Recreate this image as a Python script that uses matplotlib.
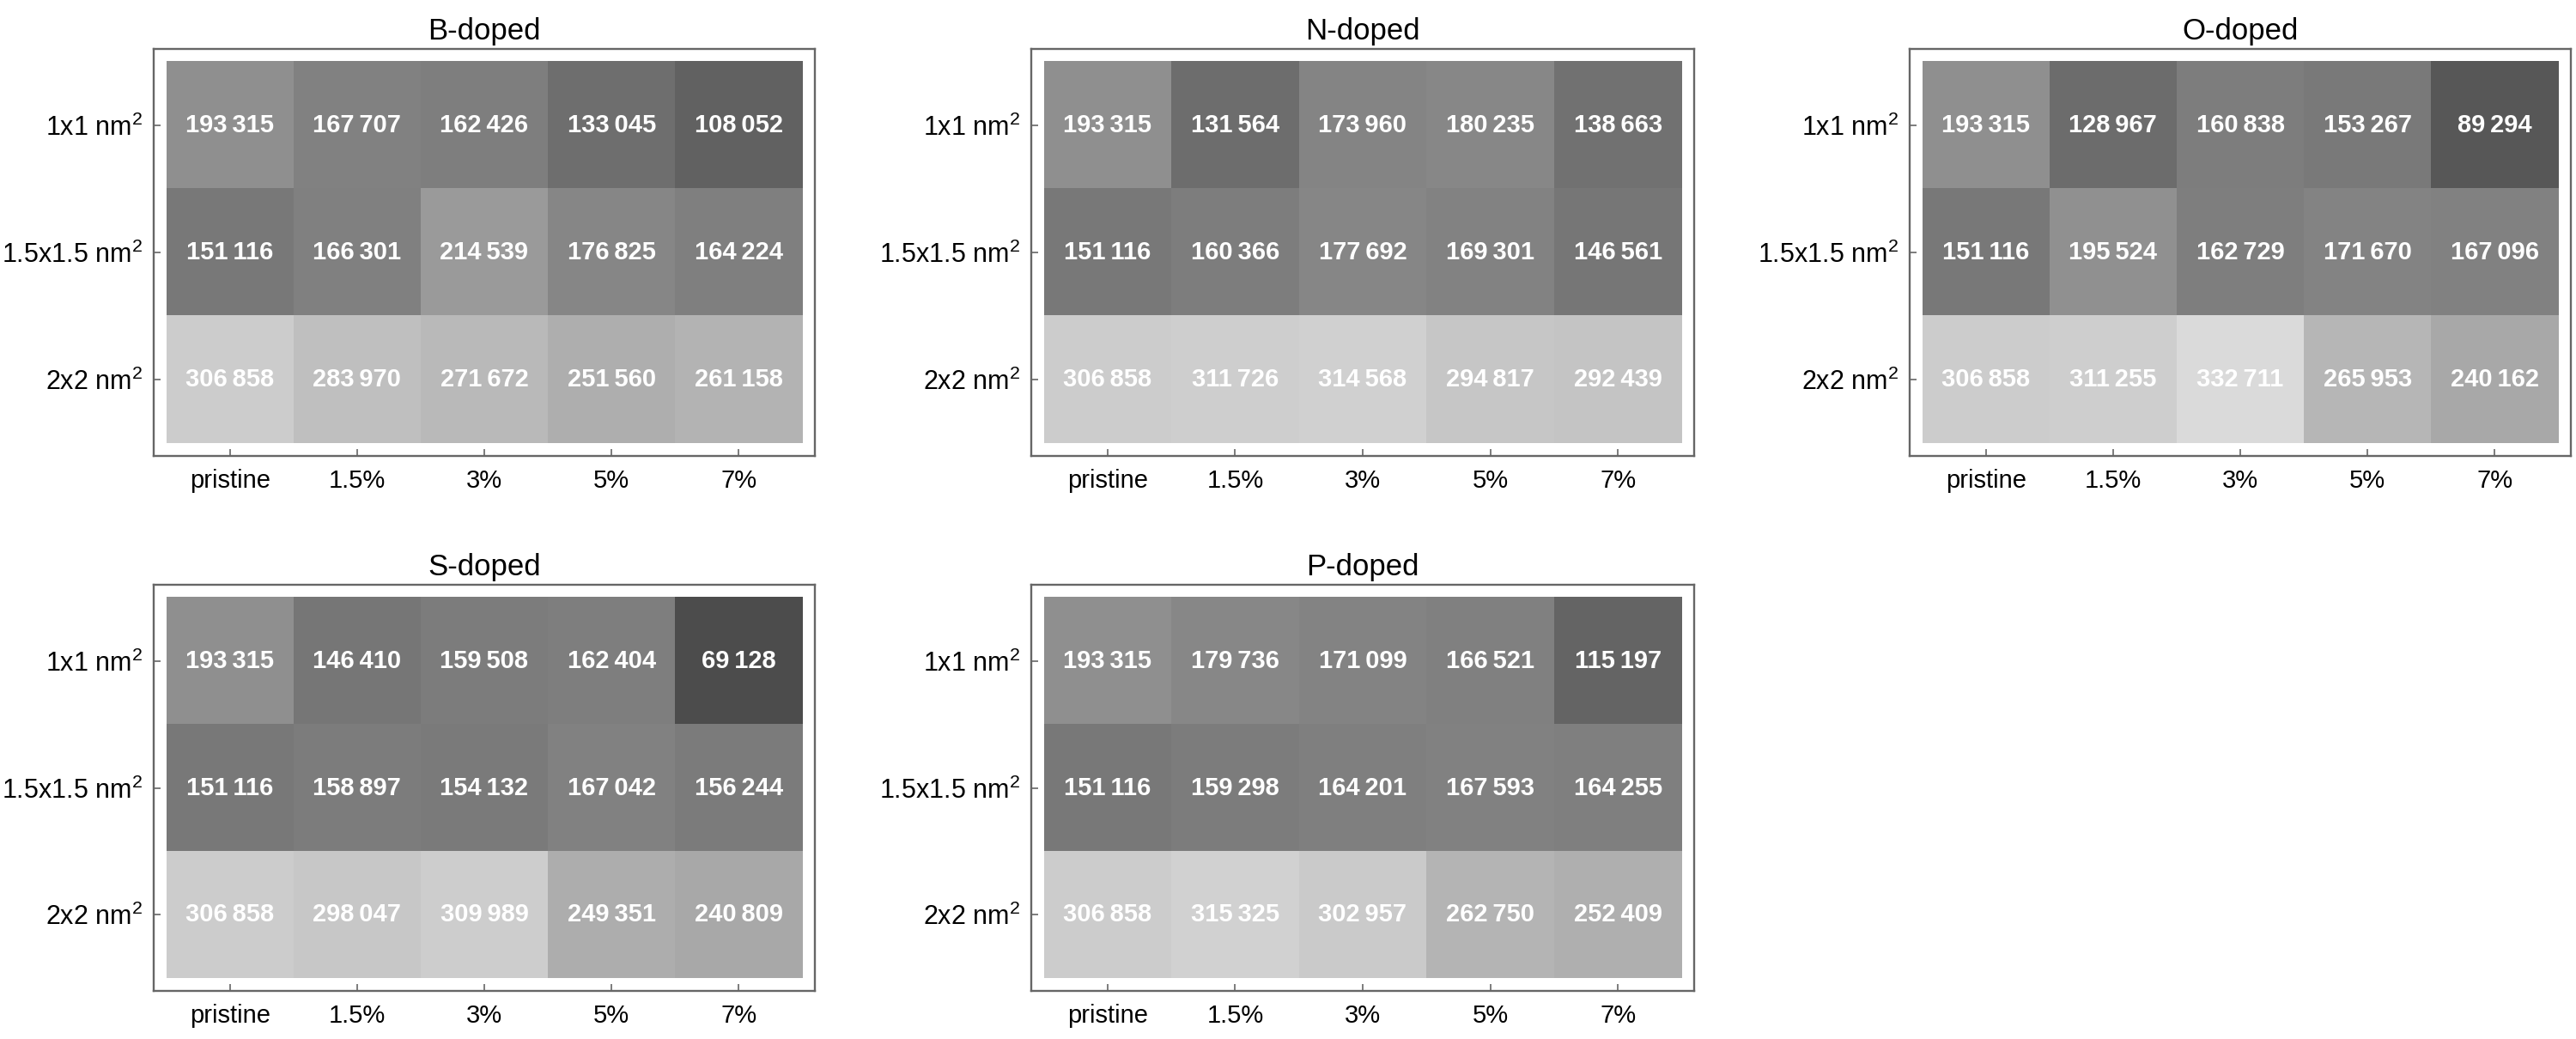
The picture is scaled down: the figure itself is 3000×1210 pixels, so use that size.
import matplotlib
matplotlib.use("Agg")
import matplotlib.pyplot as plt
import numpy as np
from matplotlib.colors import LinearSegmentedColormap, Normalize

plt.rcParams['font.family'] = ['Liberation Sans', 'DejaVu Sans']
plt.rcParams['mathtext.fontset'] = 'custom'
plt.rcParams['mathtext.rm'] = 'Liberation Sans'
plt.rcParams['mathtext.it'] = 'Liberation Sans:italic'
plt.rcParams['mathtext.bf'] = 'Liberation Sans:bold'

# ---------------- data ----------------
concentrations = ["pristine", "1.5%", "3%", "5%", "7%"]
sizes = ["1x1 nm$^2$", "1.5x1.5 nm$^2$", "2x2 nm$^2$"]
titles = ["B-doped", "N-doped", "O-doped", "S-doped", "P-doped"]

B_1x1 = [193315, 167707, 162426, 133045, 108052]
B_15 = [151116, 166301, 214539, 176825, 164224]
B_2x2 = [306858, 283970, 271672, 251560, 261158]

N_1x1 = [193315, 131564, 173960, 180235, 138663]
N_15 = [151116, 160366, 177692, 169301, 146561]
N_2x2 = [306858, 311726, 314568, 294817, 292439]

O_1x1 = [193315, 128967, 160838, 153267, 89294]
O_15 = [151116, 195524, 162729, 171670, 167096]
O_2x2 = [306858, 311255, 332711, 265953, 240162]

S_1x1 = [193315, 146410, 159508, 162404, 69128]
S_15 = [151116, 158897, 154132, 167042, 156244]
S_2x2 = [306858, 298047, 309989, 249351, 240809]

P_1x1 = [193315, 179736, 171099, 166521, 115197]
P_15 = [151116, 159298, 164201, 167593, 164255]
P_2x2 = [306858, 315325, 302957, 262750, 252409]

tables = [
    np.array([B_1x1, B_15, B_2x2]),
    np.array([N_1x1, N_15, N_2x2]),
    np.array([O_1x1, O_15, O_2x2]),
    np.array([S_1x1, S_15, S_2x2]),
    np.array([P_1x1, P_15, P_2x2]),
]

# ---------------- style ----------------
W, H = 3000, 1210
fig = plt.figure(figsize=(W / 100, H / 100), dpi=100)
fig.patch.set_facecolor("white")

allvals = np.concatenate([t.ravel() for t in tables])
norm = Normalize(vmin=allvals.min(), vmax=allvals.max())
cmap = LinearSegmentedColormap.from_list("g", [(0.30, 0.30, 0.30), (0.855, 0.855, 0.855)])

# axes frames in pixel coords: (left, top, right, bottom)
frames = [
    (179, 57, 949, 531),
    (1201, 57, 1973, 531),
    (2224, 57, 2994, 531),
    (179, 681, 949, 1154),
    (1201, 681, 1973, 1154),
]

frame_col = "#666666"
padx = 0.098
pady = 0.10

def fmt(v):
    return f"{v:,}".replace(",", "\u2009")

for t, title, (l, tp, r, b) in zip(tables, titles, frames):
    ax = fig.add_axes([l / W, (H - b) / H, (r - l) / W, (b - tp) / H])
    ax.imshow(t, cmap=cmap, norm=norm, aspect="auto", interpolation="nearest",
              extent=(-0.5, 4.5, 2.5, -0.5))
    ax.set_xlim(-0.5 - padx, 4.5 + padx)
    ax.set_ylim(2.5 + pady, -0.5 - pady)
    for i in range(t.shape[0]):
        for j in range(t.shape[1]):
            ax.text(j, i, fmt(int(t[i, j])), ha="center", va="center",
                    color="white", fontsize=21, fontweight="bold")
    ax.set_xticks(range(len(concentrations)))
    ax.set_xticklabels(concentrations, fontsize=21)
    ax.set_yticks(range(len(sizes)))
    ax.set_yticklabels(sizes, fontsize=22)
    ax.tick_params(axis="x", pad=11)
    ax.tick_params(axis="y", pad=9)
    ax.tick_params(direction="in", length=6, width=1.2, color=frame_col,
                   top=False, right=False)
    for s in ax.spines.values():
        s.set_color(frame_col)
        s.set_linewidth(1.7)
    ax.set_title(title, fontsize=25, pad=8)

fig.savefig("out.png", dpi=100, facecolor="white")
